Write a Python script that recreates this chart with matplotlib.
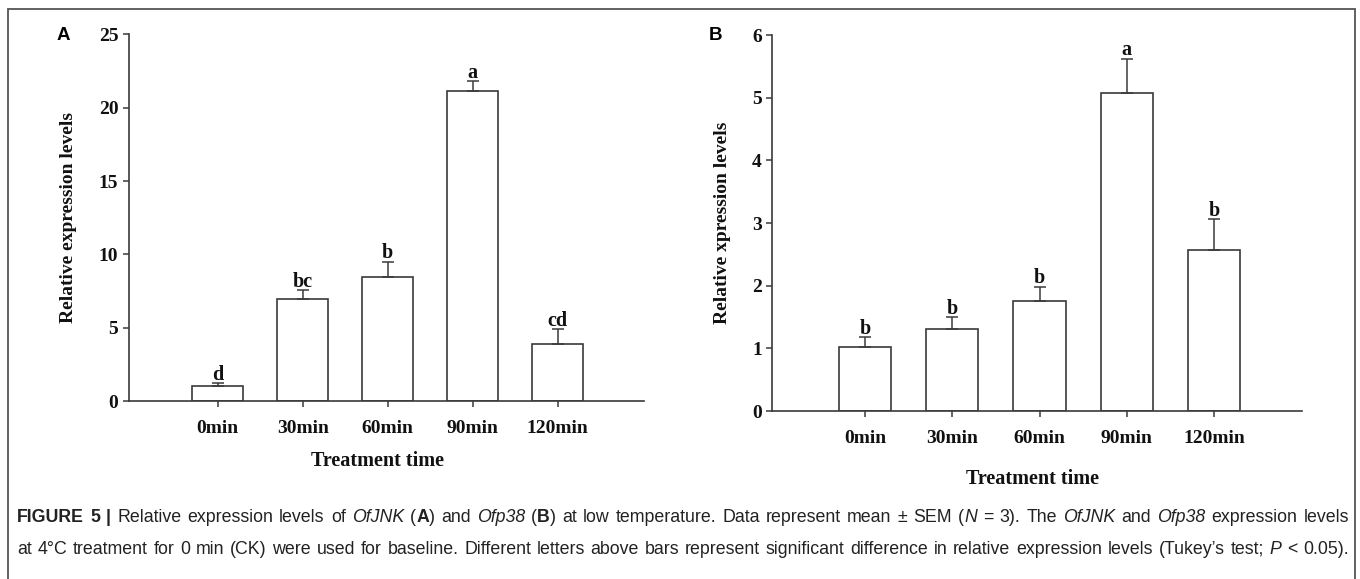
import matplotlib
matplotlib.use("Agg")
import matplotlib.pyplot as plt
from matplotlib.patches import Rectangle

W, H = 1360, 579

times = ["0min", "30min", "60min", "90min", "120min"]

jnk_mean = [1.05, 6.95, 8.5, 21.15, 3.9]
jnk_sem = [0.18, 0.63, 1.0, 0.66, 1.02]
jnk_letters = ["d", "bc", "b", "a", "cd"]

p38_mean = [1.02, 1.31, 1.76, 5.07, 2.57]
p38_sem = [0.16, 0.19, 0.22, 0.55, 0.49]
p38_letters = ["b", "b", "b", "a", "b"]

SERIF = "Liberation Serif"
SANS = "Liberation Sans"
EDGE = "#3a3a3a"


def bar_panel(ax, means, sems, letters, ylabel, ymax, ystep, xlim, ylab_x, xlab_xy):
    x = list(range(len(times)))
    ax.bar(x, means, width=0.6, color="white", edgecolor=EDGE, linewidth=1.2, zorder=2)
    ax.errorbar(x, means, yerr=[[0] * len(sems), sems], fmt="none", ecolor=EDGE,
                elinewidth=1.1, capsize=4.5, capthick=1.1, zorder=3)
    for xi, m, s, lab in zip(x, means, sems, letters):
        ax.annotate(lab, (xi, m + s), xytext=(0, 2.5), textcoords="offset points",
                    ha="center", va="baseline", fontsize=14.5, fontweight="bold",
                    family=SERIF, color="#111111")
    ax.set_xlim(*xlim)
    ax.set_ylim(0, ymax)
    ax.set_yticks(range(0, ymax + 1, ystep))
    ax.set_xticks(x)
    ax.set_xticklabels(times)
    for sp in ["top", "right"]:
        ax.spines[sp].set_visible(False)
    for sp in ["left", "bottom"]:
        ax.spines[sp].set_color(EDGE)
        ax.spines[sp].set_linewidth(1.2)
    ax.tick_params(axis="y", direction="out", length=4.5, width=1.1, color=EDGE, pad=3)
    ax.tick_params(axis="x", direction="out", length=4.5, width=1.1, color=EDGE, pad=9)
    for t in ax.get_xticklabels() + ax.get_yticklabels():
        t.set_family(SERIF)
        t.set_fontweight("bold")
        t.set_fontsize(14)
        t.set_color("#111111")
    ax.set_ylabel(ylabel, family=SERIF, fontweight="bold", fontsize=14, color="#111111")
    ax.set_xlabel("Treatment time", family=SERIF, fontweight="bold", fontsize=14.5, color="#111111")
    ax.yaxis.set_label_coords(ylab_x, 0.5)
    ax.xaxis.set_label_coords(*xlab_xy)


fig = plt.figure(figsize=(W / 100, H / 100), dpi=100)

ax1 = fig.add_axes([128.8 / W, 1 - 401.3 / H, 514.7 / W, 367 / H])
bar_panel(ax1, jnk_mean, jnk_sem, jnk_letters, "Relative expression levels",
          25, 5, (-1.046, 5.01), -0.101, (0.484, -0.135))

ax2 = fig.add_axes([772.3 / W, 1 - 411 / H, 529.7 / W, 376 / H])
bar_panel(ax2, p38_mean, p38_sem, p38_letters, "Relative xpression levels",
          6, 1, (-1.064, 5.01), -0.078, (0.492, -0.154))

fig.text(63 / W, 1 - 36 / H, "A", family=SANS, fontweight="bold", fontsize=13.5,
         ha="center", va="center")
fig.text(715 / W, 1 - 36 / H, "B", family=SANS, fontweight="bold", fontsize=13.5,
         ha="center", va="center")

# outer frame (bottom edge runs off the image)
fig.patches.append(Rectangle((8 / W, -0.05), (1355 - 8) / W, 1.05 - 9 / H,
                             transform=fig.transFigure, fill=False,
                             edgecolor="#555555", linewidth=1.3))

# caption, justified word by word
N, B, I = "normal", "bold", "italic"
line1 = [
    [("FIGURE", B)], [("5", B)], [("|", B)], [("Relative", N)], [("expression", N)],
    [("levels", N)], [("of", N)], [("OfJNK", I)], [("(", N), ("A", B), (")", N)],
    [("and", N)], [("Ofp38", I)], [("(", N), ("B", B), (")", N)], [("at", N)],
    [("low", N)], [("temperature.", N)], [("Data", N)], [("represent", N)],
    [("mean", N)], [("\u00b1", N)], [("SEM", N)], [("(", N), ("N", I)], [("=", N)],
    [("3).", N)], [("The", N)], [("OfJNK", I)], [("and", N)], [("Ofp38", I)],
    [("expression", N)], [("levels", N)],
]
line2_text = ("at 4\u00b0C treatment for 0 min (CK) were used for baseline. Different "
              "letters above bars represent significant difference in relative "
              "expression levels (Tukey\u2019s test;")
line2 = [[(w, N)] for w in line2_text.split()] + [[("P", I)], [("<", N)], [("0.05).", N)]]


def draw_line(words, x0, x1, y_base, size):
    renderer = fig.canvas.get_renderer()
    placed = []
    widths = []
    for word in words:
        parts = []
        total = 0
        for txt, st in word:
            t = fig.text(0, 1 - y_base / H, txt, family=SANS, fontsize=size,
                         fontweight="bold" if st == B else "normal",
                         fontstyle="italic" if st == I else "normal",
                         va="baseline", ha="left", color="#222222")
            w = t.get_window_extent(renderer).width
            parts.append((t, w))
            total += w
        placed.append(parts)
        widths.append(total)
    gap = (x1 - x0 - sum(widths)) / (len(words) - 1)
    x = x0
    for parts, total in zip(placed, widths):
        for t, w in parts:
            t.set_x(x / W)
            x += w
        x += gap


draw_line(line1, 17, 1349, 522, 12.8)
draw_line(line2, 17, 1349, 554, 12.8)

fig.savefig("out.png", dpi=100)
